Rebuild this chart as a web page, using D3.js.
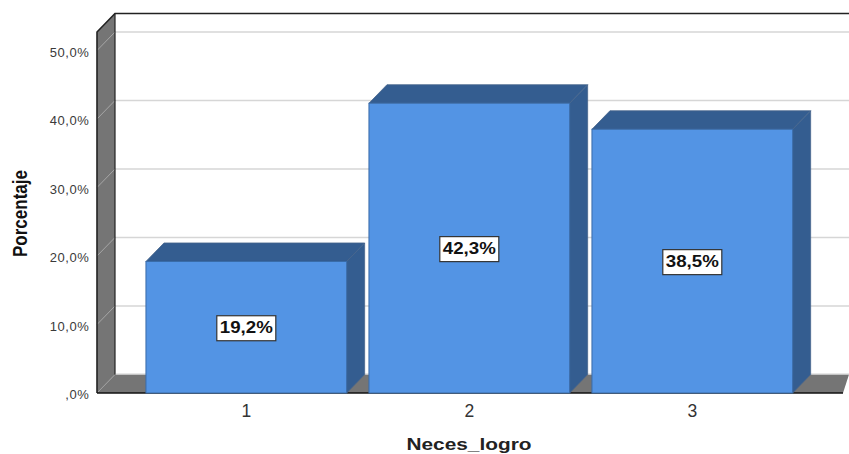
<!DOCTYPE html>
<html>
<head>
<meta charset="utf-8">
<script src="https://cdn.jsdelivr.net/npm/d3@7/dist/d3.min.js"></script>
<style>
html,body{margin:0;padding:0;background:#fff;}
svg{display:block;}
text{font-family:"Liberation Sans",Arial,sans-serif;}
</style>
</head>
<body>
<svg id="chart" width="849" height="454"></svg>
<script>
const categories = ["1", "2", "3"];
const percentages = [19.2, 42.3, 38.5];
const yTicks = [0, 10, 20, 30, 40, 50];
const yMax = 52.7;
const xTitle = "Neces_logro";
const yTitle = "Porcentaje";

const fmtPct = v => {
  const s = v.toFixed(1).replace(".", ",");
  return (v === 0 ? s.replace(/^0/, "") : s) + "%";
};

const svg = d3.select("#chart");
const depthX = 18, depthY = 18.5;
const floorLeft = 97, floorRight = 843;

const y = d3.scaleLinear().domain([0, yMax]).range([393, 32]);
const x = d3.scaleBand().domain(categories)
  .range([134.8, 803.8]).paddingInner(0.1).paddingOuter(0.05);

const poly = (pts, fill, stroke, sw) => svg.append("polygon")
  .attr("points", pts.map(p => p.join(",")).join(" "))
  .attr("fill", fill)
  .attr("stroke", stroke || "none")
  .attr("stroke-width", sw || 0)
  .attr("stroke-linejoin", "round");

const wall = "#757575", ink = "#222";
const y0 = y(0), yTop = y(yMax);

// Side wall and floor of the 3D box
poly([[floorLeft, y0], [floorLeft, yTop], [floorLeft + depthX, yTop - depthY], [floorLeft + depthX, y0 - depthY]], wall);
poly([[floorLeft, y0], [floorLeft + depthX, y0 - depthY], [floorRight + 6, y0 - depthY], [floorRight, y0]], wall);

// Gridlines on the back plane and their continuation across the wall
yTicks.filter(t => t > 0).forEach(t => {
  svg.append("line")
    .attr("x1", floorLeft + depthX).attr("x2", 849)
    .attr("y1", y(t) - depthY).attr("y2", y(t) - depthY)
    .attr("stroke", "#d6d6d6").attr("stroke-width", 1.5);
  svg.append("line")
    .attr("x1", floorLeft).attr("x2", floorLeft + depthX)
    .attr("y1", y(t)).attr("y2", y(t) - depthY)
    .attr("stroke", "#a6a6a6").attr("stroke-width", 1);
});
svg.append("line")
  .attr("x1", floorLeft + depthX + 1).attr("x2", 849)
  .attr("y1", y0 - depthY - 0.5).attr("y2", y0 - depthY - 0.5)
  .attr("stroke", "#cfcfcf").attr("stroke-width", 1);
svg.append("line")
  .attr("x1", floorLeft).attr("x2", floorLeft + depthX)
  .attr("y1", y0).attr("y2", y0 - depthY)
  .attr("stroke", "#a0a0a0").attr("stroke-width", 0.8);

// Box outline
svg.append("path")
  .attr("d", `M${floorLeft},${y0}V${yTop}L${floorLeft + depthX},${yTop - depthY}H849`)
  .attr("fill", "none").attr("stroke", ink).attr("stroke-width", 1.6);
svg.append("path")
  .attr("d", `M${floorLeft + depthX},${yTop - depthY}V${y0 - depthY}`)
  .attr("fill", "none").attr("stroke", ink).attr("stroke-width", 1.2);
svg.append("path")
  .attr("d", `M${floorLeft},${y0}H${floorRight}`)
  .attr("fill", "none").attr("stroke", "#111").attr("stroke-width", 1.6);

// Bars: top face, side face, front face
const front = "#5394e4", shade = "#345d90", edge = "#3a6ca8";
categories.forEach((c, i) => {
  const l = x(c), r = l + x.bandwidth(), t = y(percentages[i]);
  poly([[l, t], [l + depthX, t - depthY], [r + depthX, t - depthY], [r, t]], shade, "#46658c", 0.8);
  poly([[r, t], [r + depthX, t - depthY], [r + depthX, y0 - depthY], [r, y0]], shade, "#46658c", 0.8);
  svg.append("rect")
    .attr("x", l).attr("y", t).attr("width", r - l).attr("height", y0 - t)
    .attr("fill", front).attr("stroke", edge).attr("stroke-width", 1);
});

// Value labels in white boxes
categories.forEach((c, i) => {
  const cx = x(c) + x.bandwidth() / 2;
  const cy = (y(percentages[i]) + y0) / 2 + 1;
  svg.append("rect")
    .attr("x", cx - 29.5).attr("y", cy - 12.5)
    .attr("width", 59).attr("height", 25)
    .attr("fill", "#fff").attr("stroke", "#333").attr("stroke-width", 1.2);
  svg.append("text")
    .attr("x", cx).attr("y", cy + 0.5)
    .attr("text-anchor", "middle").attr("dominant-baseline", "middle")
    .attr("font-size", 16.5).attr("font-weight", "bold").attr("fill", "#111")
    .attr("textLength", 53).attr("lengthAdjust", "spacingAndGlyphs")
    .text(fmtPct(percentages[i]));
});

// Axes
const yAxis = d3.axisLeft(y).tickValues(yTicks).tickFormat(fmtPct).tickSize(0).tickPadding(7.5);
const yG = svg.append("g").attr("transform", `translate(${floorLeft},1.5)`).call(yAxis);
yG.select(".domain").remove();
yG.selectAll("text").attr("font-size", 13).attr("letter-spacing", 0.6).attr("fill", "#3a3a3a")
  .style("font-family", '"Liberation Sans",Arial,sans-serif');

const xAxis = d3.axisBottom(x).tickSize(0).tickPadding(12);
const xG = svg.append("g").attr("transform", `translate(0,${y0})`).call(xAxis);
xG.select(".domain").remove();
xG.selectAll("text").attr("font-size", 17.5).attr("fill", "#333")
  .style("font-family", '"Liberation Sans",Arial,sans-serif');

svg.append("text")
  .attr("x", 469).attr("y", 450)
  .attr("text-anchor", "middle")
  .attr("font-size", 17).attr("font-weight", "bold")
  .attr("textLength", 125).attr("lengthAdjust", "spacingAndGlyphs")
  .attr("fill", "#222").text(xTitle);

svg.append("text")
  .attr("transform", "translate(27,213.5) rotate(-90)")
  .attr("text-anchor", "middle")
  .attr("font-size", 20).attr("font-weight", "bold").attr("textLength", 87)
  .attr("lengthAdjust", "spacingAndGlyphs")
  .attr("fill", "#111").text(yTitle);
</script>
</body>
</html>
